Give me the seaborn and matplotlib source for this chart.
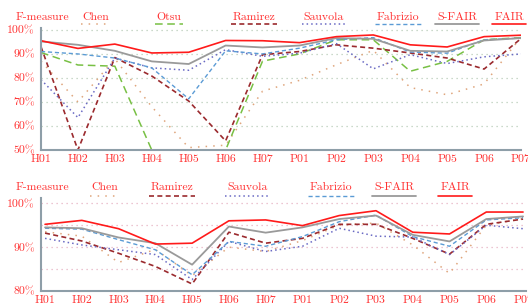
import numpy as np
import pandas as pd
import matplotlib
matplotlib.use('Agg')
import matplotlib.pyplot as plt
from matplotlib.lines import Line2D
import seaborn as sns

# x categories
images = ['H01', 'H02', 'H03', 'H04', 'H05', 'H06', 'H07',
          'P01', 'P02', 'P03', 'P04', 'P05', 'P06', 'P07']

# top panel (F-measure, %)
top_chen = [87.0, 70.0, 88.0, 68.0, 51.0, 52.0, 74.5, 79.0, 85.5, 91.5, 76.0, 73.0, 77.5, 97.0]
top_otsu = [90.6, 85.4, 84.9, 50.0, 50.0, 50.0, 87.0, 90.0, 95.9, 95.9, 82.8, 86.9, 95.9, 96.8]
top_ramirez = [93.0, 50.0, 88.5, 80.8, 70.4, 53.8, 89.7, 91.0, 93.8, 92.4, 90.4, 88.3, 83.7, 96.4]
top_sauvola = [79.3, 63.5, 88.3, 84.2, 83.2, 91.8, 89.0, 90.3, 94.3, 83.8, 89.7, 86.0, 88.8, 90.0]
top_fabrizio = [91.0, 90.0, 88.3, 84.2, 71.3, 91.3, 90.0, 92.4, 95.9, 96.8, 90.8, 90.3, 95.9, 96.6]
top_sfair = [95.2, 93.8, 91.3, 86.9, 85.8, 93.5, 92.7, 93.5, 96.6, 96.3, 91.3, 91.0, 95.6, 96.6]
top_fair = [95.5, 92.3, 94.1, 90.4, 90.7, 95.6, 95.5, 94.7, 97.2, 97.9, 93.8, 92.9, 97.2, 97.8]

# bottom panel (F-measure, %)
bot_chen = [93.5, 92.5, 86.5, 89.5, 83.5, 90.0, 89.0, 91.5, 95.0, 95.5, 90.5, 84.0, 95.0, 96.5]
bot_ramirez = [93.2, 91.4, 88.6, 85.6, 81.6, 93.4, 90.9, 92.0, 95.2, 95.2, 92.0, 88.4, 95.2, 96.4]
bot_sauvola = [92.0, 90.5, 89.4, 88.3, 82.6, 91.3, 89.0, 90.2, 94.3, 92.5, 92.3, 88.3, 95.0, 94.2]
bot_fabrizio = [94.3, 94.1, 91.7, 89.4, 83.7, 91.3, 90.2, 92.4, 95.8, 97.3, 92.4, 90.2, 96.2, 96.7]
bot_sfair = [94.5, 94.3, 92.2, 90.9, 86.0, 94.7, 93.3, 94.5, 96.4, 97.2, 92.8, 91.3, 96.4, 97.0]
bot_fair = [95.2, 96.1, 94.2, 90.7, 90.9, 96.0, 96.2, 94.9, 97.2, 98.3, 93.4, 93.0, 98.0, 98.0]

# line styles per method
styles = {
    'Chen': dict(color='#dfa57c', linestyle=(0, (1, 4)), linewidth=1.1),
    'Otsu': dict(color='#78c044', linestyle=(0, (5, 3)), linewidth=1.1),
    'Ramirez': dict(color='#9b2a2e', linestyle=(0, (3, 2)), linewidth=1.2),
    'Sauvola': dict(color='#6a6ac4', linestyle=(0, (1, 2)), linewidth=1.1),
    'Fabrizio': dict(color='#5b9bd5', linestyle=(0, (3, 2)), linewidth=1.0),
    'S-FAIR': dict(color='#9a9a9a', linestyle='-', linewidth=1.3),
    'FAIR': dict(color='#ff1a1a', linestyle='-', linewidth=1.2),
}

red = '#ff3030'
spine_col = '#8e9ea8'

sns.set_theme(style='white')
plt.rcParams['font.family'] = ['cmr10', 'DejaVu Serif']
plt.rcParams['axes.unicode_minus'] = False

W, H = 528, 307
fig = plt.figure(figsize=(W / 100, H / 100), dpi=100)


def px_rect(x0, y0, x1, y1):
    return [x0 / W, 1 - y1 / H, (x1 - x0) / W, (y1 - y0) / H]


def style_axis(ax, yticks, grid_col, minor=None):
    for s in ['top', 'right']:
        ax.spines[s].set_visible(False)
    for s in ['left', 'bottom']:
        ax.spines[s].set_color(spine_col)
        ax.spines[s].set_linewidth(1.5)
    ax.set_xticks(range(len(images)))
    ax.set_xticklabels(images)
    ax.set_yticks(yticks)
    ax.set_yticklabels([f'{v}%' for v in yticks])
    ax.tick_params(axis='both', colors=red, labelcolor=red, direction='inout',
                   length=5, width=0.8, labelsize=8.5)
    ax.tick_params(axis='x', pad=1)
    ax.tick_params(axis='y', pad=2)
    if minor is not None:
        ax.set_yticks(minor, minor=True)
        ax.tick_params(axis='y', which='minor', length=0)
    ax.grid(False)
    ax.yaxis.grid(True, which='both', color=grid_col, linestyle=(0, (1, 3)), linewidth=0.9)
    ax.set_xlabel('')
    ax.set_ylabel('')


def draw_series(ax, series):
    for name, vals in series:
        df = pd.DataFrame({'x': range(len(images)), 'y': vals})
        sns.lineplot(data=df, x='x', y='y', ax=ax, **styles[name])


def draw_legend(names, centers, y_text, y_line):
    fig.text(42 / W, 1 - y_text / H, 'F-measure', color=red, fontsize=8.5,
             ha='center', va='center')
    fig.canvas.draw()
    r = fig.canvas.get_renderer()
    for name, cx in zip(names, centers):
        t = fig.text(cx / W, 1 - y_text / H, name, color=red, fontsize=8.5,
                     ha='center', va='center')
        bb = t.get_window_extent(renderer=r)
        half = bb.width / 2 + 2
        fig.add_artist(Line2D([(cx - half) / W, (cx + half) / W],
                              [1 - y_line / H, 1 - y_line / H],
                              transform=fig.transFigure, **styles[name]))


# top panel
ax1 = fig.add_axes(px_rect(41, 28, 521, 150))
draw_series(ax1, [('Chen', top_chen), ('Otsu', top_otsu), ('Ramirez', top_ramirez),
                  ('Sauvola', top_sauvola), ('Fabrizio', top_fabrizio),
                  ('S-FAIR', top_sfair), ('FAIR', top_fair)])
ax1.set_xlim(0, 13)
ax1.set_ylim(50, 100.8)
style_axis(ax1, [50, 60, 70, 80, 90, 100], '#b9cdb9')

# bottom panel
ax2 = fig.add_axes(px_rect(41, 198, 526, 291))
draw_series(ax2, [('Chen', bot_chen), ('Ramirez', bot_ramirez), ('Sauvola', bot_sauvola),
                  ('Fabrizio', bot_fabrizio), ('S-FAIR', bot_sfair), ('FAIR', bot_fair)])
ax2.set_xlim(-0.11, 13.08)
ax2.set_ylim(80, 101.2)
style_axis(ax2, [80, 90, 100], '#e6b3c3', minor=[85, 95])

draw_legend(['Chen', 'Otsu', 'Ramirez', 'Sauvola', 'Fabrizio', 'S-FAIR', 'FAIR'],
            [96, 169, 254, 324, 398, 457, 509], 17, 24)
fig.text(0, 0, '')
# bottom legend (F-measure label drawn again at its own row)
fig.text(42 / W, 1 - 187 / H, 'F-measure', color=red, fontsize=8.5, ha='center', va='center')
r = fig.canvas.get_renderer()
for name, cx in zip(['Chen', 'Ramirez', 'Sauvola', 'Fabrizio', 'S-FAIR', 'FAIR'],
                    [105, 172, 247, 331, 394, 455]):
    t = fig.text(cx / W, 1 - 187 / H, name, color=red, fontsize=8.5, ha='center', va='center')
    bb = t.get_window_extent(renderer=r)
    half = bb.width / 2 + 2
    fig.add_artist(Line2D([(cx - half) / W, (cx + half) / W], [1 - 196 / H, 1 - 196 / H],
                          transform=fig.transFigure, **styles[name]))

fig.savefig('out.png', dpi=100)
